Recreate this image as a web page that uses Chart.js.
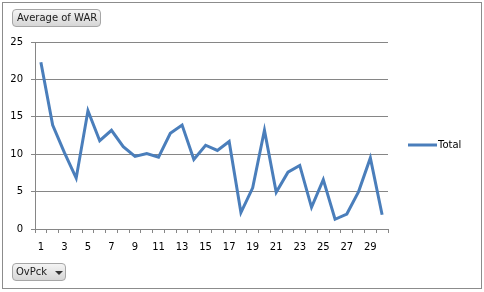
<!DOCTYPE html>
<html>
<head>
<meta charset="utf-8">
<script src="https://cdn.jsdelivr.net/npm/chart.js@4"></script>
<style>
  html, body { margin: 0; padding: 0; background: #fff; }
  #wrap { position: relative; width: 484px; height: 292px; overflow: hidden; }
  #frame { position: absolute; left: 2px; top: 2px; width: 478px; height: 285px; border: 1px solid #8c8c8c; box-sizing: content-box; pointer-events: none; }
  canvas { position: absolute; left: 0; top: 0; }
  .btn { position: absolute; box-sizing: border-box; border: 1px solid #a6a6a6; border-radius: 4px;
         background: linear-gradient(#f4f4f4, #d6d6d6); font-family: "DejaVu Sans", sans-serif; font-size: 10px;
         color: #1a1a1a; line-height: 16px; white-space: nowrap; }
  #b1 { left: 12px; top: 9px; width: 89px; height: 18px; padding-left: 4px; }
  #b2 { left: 12px; top: 263px; width: 54px; height: 18px; padding-left: 3px; }
  #b2 .arr { position: absolute; left: 42px; top: 7px; width: 0; height: 0;
             border-left: 4px solid transparent; border-right: 4px solid transparent; border-top: 4px solid #333; }
</style>
</head>
<body>
<div id="wrap">
  <canvas id="c" width="484" height="292"></canvas>
  <div id="frame"></div>
  <div class="btn" id="b1">Average of WAR</div>
  <div class="btn" id="b2">OvPck<span class="arr"></span></div>
</div>
<script>
const categories = Array.from({length: 30}, (_, i) => String(i + 1));
const seriesName = "Total";
const warValues = [22.3, 13.9, 10.2, 6.8, 15.8, 11.8, 13.2, 11.0, 9.7, 10.1,
                   9.6, 12.8, 13.9, 9.3, 11.2, 10.5, 11.7, 2.2, 5.5, 13.2,
                   4.9, 7.6, 8.5, 2.9, 6.6, 1.3, 2.0, 5.0, 9.5, 1.9];
const yTicks = [0, 5, 10, 15, 20, 25];

const lineColor = "#4a7ebb";
const gridColor = "#868686";
const font = { family: "DejaVu Sans", size: 10 };

const legendPlugin = {
  id: "sideLegend",
  afterDraw(chart) {
    const ctx = chart.ctx;
    const ds = chart.data.datasets[0];
    const yMid = 145;
    ctx.save();
    ctx.strokeStyle = ds.borderColor;
    ctx.lineWidth = 3;
    ctx.beginPath();
    ctx.moveTo(408, yMid);
    ctx.lineTo(437, yMid);
    ctx.stroke();
    ctx.fillStyle = "#000";
    ctx.font = "10px 'DejaVu Sans'";
    ctx.textBaseline = "middle";
    ctx.fillText(ds.label, 438, yMid + 0.5);
    ctx.restore();
  }
};

new Chart(document.getElementById("c"), {
  type: "line",
  data: {
    labels: categories,
    datasets: [{
      label: seriesName,
      data: warValues,
      borderColor: lineColor,
      backgroundColor: lineColor,
      borderWidth: 3,
      pointRadius: 0,
      tension: 0,
      borderJoinStyle: "miter"
    }]
  },
  options: {
    responsive: false,
    animation: false,
    devicePixelRatio: 1,
    layout: { padding: { left: 0, right: 96, top: 42, bottom: 0 } },
    plugins: { legend: { display: false }, tooltip: { enabled: false } },
    scales: {
      x: {
        offset: true,
        grid: { offset: true, drawOnChartArea: false, drawTicks: true, tickLength: 4, color: gridColor },
        border: { display: true, color: gridColor },
        ticks: {
          autoSkip: false, maxRotation: 0, padding: 8, color: "#000", font: font,
          callback: function(v, i) { return i % 2 === 0 ? categories[i] : ""; }
        },
        afterFit(scale) { scale.height = 63; }
      },
      y: {
        min: 0, max: 25,
        afterBuildTicks(scale) { scale.ticks = yTicks.map(v => ({ value: v })); },
        grid: { color: gridColor, tickLength: 4, drawTicks: true },
        border: { display: true, color: gridColor },
        ticks: { padding: 8, color: "#000", font: font },
        afterFit(scale) { scale.width = 35; }
      }
    }
  },
  plugins: [legendPlugin]
});
</script>
</body>
</html>
